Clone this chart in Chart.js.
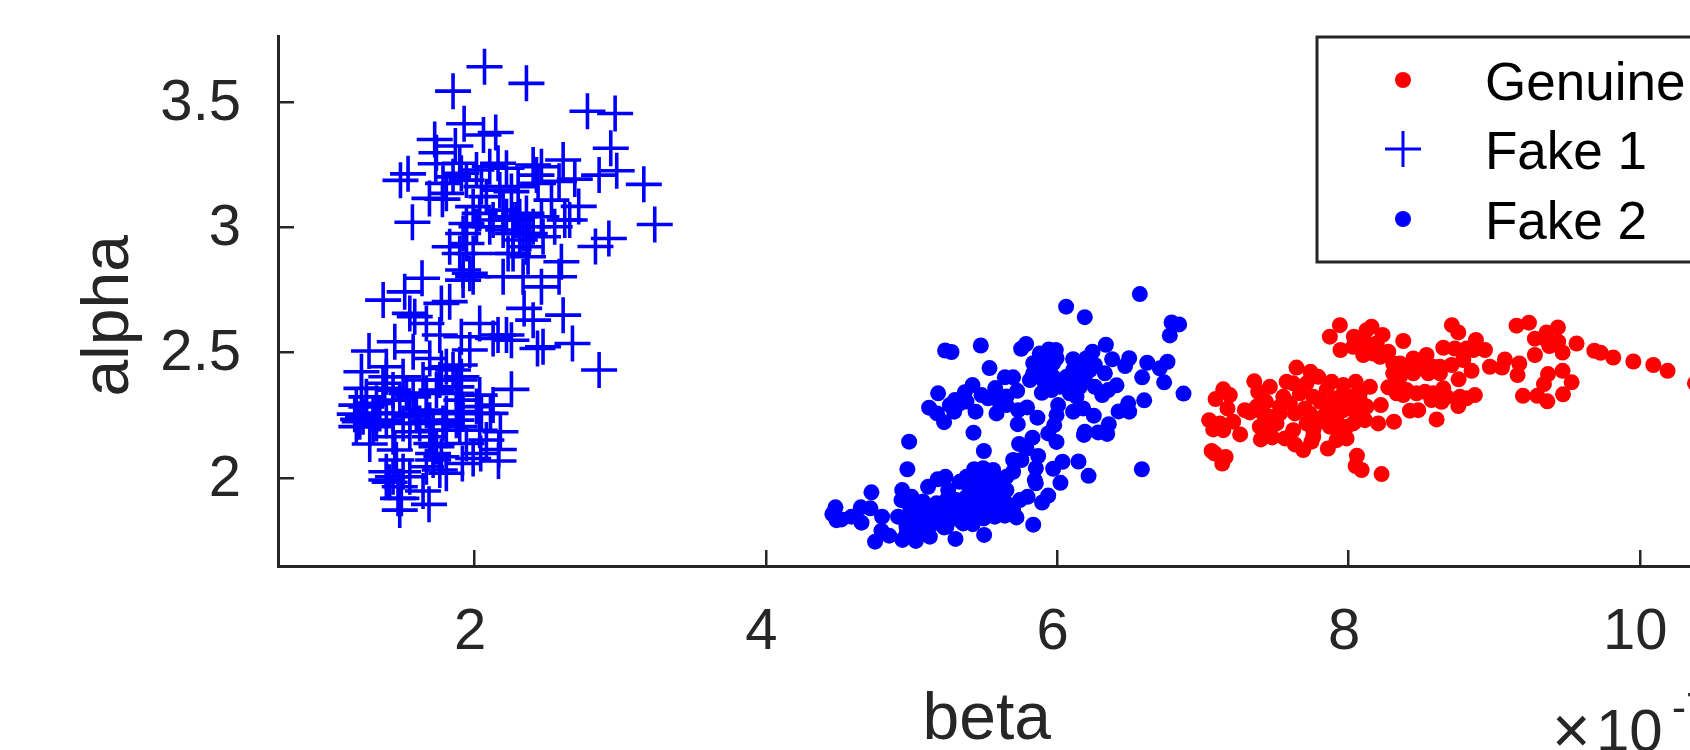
<!DOCTYPE html>
<html>
<head>
<meta charset="utf-8">
<title>alpha vs beta</title>
<script src="https://cdn.jsdelivr.net/npm/chart.js@4/dist/chart.umd.min.js"></script>
<style>
  html, body { margin: 0; padding: 0; background: #fff; overflow: hidden; }
  canvas { display: block; }
</style>
</head>
<body>
<canvas id="chart" width="1690" height="750"></canvas>
<script>
const seriesNames = ['Genuine', 'Fake 1', 'Fake 2'];
const xTicks = [2, 4, 6, 8, 10];
const yTicks = [2, 2.5, 3, 3.5];

const genuineBeta = [
  10.379, 10.191, 10.093, 9.956, 9.818, 9.731, 9.688, 9.566, 9.239, 9.154, 9.438, 9.36, 9.28, 9.44, 9.379,
  9.47, 9.28, 9.47, 9.37, 9.532, 9.342, 9.473, 9.296, 9.198, 9.365, 8.71, 8.754, 8.875, 8.811, 8.937,
  8.651, 8.73, 8.971, 9.074, 9.173, 9.054, 9.161, 8.845, 8.756, 8.708, 8.868, 8.811, 8.754, 8.639, 8.765,
  8.651, 8.605, 8.57, 8.525, 8.479, 8.422, 8.376, 8.536, 8.582, 8.445, 8.353, 8.273, 8.307, 8.445, 8.548,
  8.234, 8.158, 8.124, 8.037, 7.941, 7.872, 7.945, 8.101, 8.17, 8.124, 8.273, 8.376, 8.222, 8.312, 8.204,
  8.113, 8.147, 8.049, 7.964, 7.884, 7.808, 8.021, 7.964, 8.055, 7.872, 7.781, 7.712, 7.872, 7.987, 7.941,
  7.858, 7.746, 7.689, 7.632, 7.563, 7.476, 7.398, 7.506, 7.437, 7.414, 7.323, 7.632, 7.701, 7.552, 7.575,
  7.643, 7.739, 7.792, 7.712, 7.666, 7.46, 7.353, 7.38, 7.433, 7.288, 7.169, 7.185, 7.14, 7.087, 7.043,
  7.208, 7.14, 7.071, 7.256, 7.06, 7.082, 7.156, 7.133, 8.058, 8.049, 8.09, 8.227, 7.987, 8.078, 8.124,
  7.918, 7.758, 7.529, 7.437, 8.33, 8.399, 8.49, 8.399, 8.353,
  7.369, 7.46, 7.391, 7.529, 7.598, 7.758, 7.849, 7.941, 8.01, 8.078, 7.895, 7.826, 7.735, 7.918, 8.033,
  7.918, 7.758, 7.62, 7.46, 7.62, 8.33, 8.467, 8.582, 8.674, 8.422, 8.513, 8.628, 8.628, 8.307, 8.101,
  8.193, 8.055, 8.032, 8.216, 8.857, 8.788, 9.406, 9.36, 7.117
];
const genuineAlpha = [
  2.378, 2.428, 2.451, 2.465, 2.481, 2.5, 2.508, 2.537, 2.62, 2.608, 2.601, 2.581, 2.556, 2.544, 2.527,
  2.501, 2.491, 2.428, 2.415, 2.382, 2.375, 2.334, 2.328, 2.328, 2.306, 2.61, 2.581, 2.551, 2.517, 2.511,
  2.52, 2.517, 2.444, 2.473, 2.457, 2.441, 2.411, 2.428, 2.394, 2.451, 2.331, 2.318, 2.287, 2.304, 2.324,
  2.358, 2.234, 2.311, 2.344, 2.271, 2.269, 2.547, 2.491, 2.444, 2.477, 2.457, 2.504, 2.418, 2.418, 2.418,
  2.571, 2.604, 2.59, 2.564, 2.61, 2.564, 2.511, 2.491, 2.497, 2.537, 2.362, 2.331, 2.291, 2.225, 2.218,
  2.231, 2.364, 2.384, 2.371, 2.384, 2.304, 2.324, 2.271, 2.258, 2.258, 2.218, 2.218, 2.205, 2.158, 2.178,
  2.118, 2.145, 2.112, 2.134, 2.158, 2.162, 2.154, 2.218, 2.205, 2.258, 2.262, 2.258, 2.278, 2.324, 2.384,
  2.441, 2.424, 2.404, 2.378, 2.338, 2.364, 2.386, 2.344, 2.304, 2.271, 2.278, 2.331, 2.354, 2.315, 2.231,
  2.225, 2.191, 2.194, 2.174, 2.108, 2.098, 2.084, 2.058, 2.089, 2.048, 2.032, 2.016, 2.205, 2.311, 2.285,
  2.218, 2.191, 2.258, 2.231, 2.378, 2.351, 2.444, 2.444, 2.404,
  2.285, 2.245, 2.205, 2.285, 2.298, 2.324, 2.351, 2.324, 2.285, 2.338, 2.298, 2.245, 2.258, 2.245, 2.218,
  2.151, 2.165, 2.191, 2.191, 2.378, 2.338, 2.338, 2.338, 2.324, 2.444, 2.444, 2.444, 2.418, 2.457, 2.564,
  2.537, 2.537, 2.524, 2.484, 2.511, 2.471, 2.537, 2.55, 2.218
];

const fake1Beta = [
  2.067, 1.851, 2.355, 2.774, 2.964, 1.927, 2.06, 2.144, 2.934, 1.725, 1.867, 1.737, 1.732, 1.542, 1.49,
  2.607, 2.975, 2.854, 3.161, 2.687, 2.579, 3.236, 2.921, 2.829, 2.714, 1.572, 1.689, 1.778, 1.897, 2.012,
  2.103, 2.16, 2.218, 2.401, 2.458, 2.424, 1.908, 1.851, 1.943, 1.782, 1.805, 2.046, 2.08, 2.172, 2.252,
  2.298, 2.435, 2.527, 2.652, 2.618, 2.458, 2.355, 2.286, 2.218, 2.126, 2.034, 1.989, 1.943, 1.92, 2.012,
  2.103, 2.195, 2.263, 2.332, 2.401, 2.469, 2.549, 1.828, 1.943, 1.897, 1.989, 2.229, 2.355, 2.366, 2.263,
  2.595, 2.579, 1.92, 1.989, 2.195, 2.332, 1.371, 1.519, 1.638, 2.458, 2.339, 2.401, 2.607, 2.671, 2.854,
  2.469, 2.431, 2.218, 2.16, 2.126, 2.252, 2.034, 1.771, 1.828, 1.554, 1.588, 1.668, 1.76, 1.908, 1.966,
  1.577, 1.451, 1.274, 1.222, 2.252, 2.034, 2.126, 1.691, 1.771, 1.897, 1.908, 1.393, 1.382, 1.222, 1.256,
  1.508, 1.531, 1.645, 1.737, 1.874, 1.187, 1.325, 1.176, 1.199, 1.21, 1.302, 1.439, 1.554, 1.668, 1.805,
  1.92, 2.046, 2.108, 2.176, 2.08, 2.165, 2.163, 2.041, 1.279, 1.451, 1.702, 1.943, 1.989, 1.805, 1.915,
  1.393, 1.508, 1.416, 1.554, 1.645, 1.473, 1.496, 1.686, 1.393, 1.714, 1.76, 1.714, 1.554, 1.439, 1.325,
  1.897, 1.805, 1.622, 2.034, 1.874,
  1.393, 1.37, 1.439, 1.485, 1.577, 1.668, 1.76, 1.851, 1.897, 1.805, 1.874, 1.256, 1.348, 1.233, 1.187,
  1.302, 1.393, 1.508, 1.599, 1.691, 1.782, 1.691, 1.737, 1.714, 1.771, 1.668, 1.462, 1.439, 1.485, 1.485,
  1.897, 1.908, 2.012, 2.263, 2.309, 2.378, 2.309, 2.195, 1.966, 1.92
];
const fake1Alpha = [
  3.641, 3.544, 3.575, 3.464, 3.455, 3.414, 3.369, 3.379, 3.316, 3.351, 3.325, 3.298, 3.254, 3.214, 3.188,
  3.269, 3.226, 3.209, 3.172, 3.193, 3.184, 3.012, 2.956, 2.924, 3.084, 3.021, 3.116, 3.113, 3.256, 3.229,
  3.242, 3.256, 3.236, 3.249, 3.242, 3.209, 3.216, 3.202, 3.189, 3.176, 3.136, 3.163, 3.123, 3.149, 3.143,
  3.163, 3.176, 3.109, 3.03, 3.03, 3.043, 3.056, 3.03, 3.043, 3.03, 3.056, 3.083, 3.016, 2.976, 3.003,
  3.003, 2.99, 2.976, 2.976, 3.003, 2.963, 3.003, 2.923, 2.936, 2.896, 2.896, 2.896, 2.923, 2.883, 2.896,
  2.863, 2.803, 2.83, 2.803, 2.803, 2.803, 2.71, 2.743, 2.797, 2.763, 2.677, 2.63, 2.65, 2.537, 2.431,
  2.524, 2.517, 2.571, 2.571, 2.557, 2.55, 2.617, 2.697, 2.704, 2.657, 2.644, 2.617, 2.571, 2.564, 2.511,
  2.504, 2.544, 2.507, 2.424, 2.354, 2.331, 2.291, 2.477, 2.437, 2.451, 2.404, 2.404, 2.358, 2.358, 2.324,
  2.404, 2.338, 2.391, 2.351, 2.338, 2.291, 2.298, 2.255, 2.234, 2.225, 2.258, 2.258, 2.245, 2.271, 2.258,
  2.265, 2.258, 2.258, 2.185, 2.152, 2.114, 2.068, 2.098, 2.136, 2.112, 2.138, 2.138, 2.078, 2.019, 2.058,
  2.025, 2.025, 1.983, 2.005, 1.948, 1.919, 1.919, 1.895, 1.992, 2.072, 2.032, 2.191, 2.185, 2.165, 2.218,
  2.205, 2.191, 2.218, 2.191, 2.231,
  2.444, 2.378, 2.351, 2.311, 2.324, 2.338, 2.391, 2.431, 2.391, 2.444, 2.364, 2.284, 2.258, 2.245, 2.205,
  2.205, 2.231, 2.218, 2.258, 2.231, 2.218, 2.165, 2.125, 2.098, 2.085, 2.045, 2.072, 2.005, 1.965, 1.872,
  2.258, 2.311, 2.285, 3.03, 3.043, 2.976, 2.95, 3.069, 2.817, 2.79
];

const fake2Beta = [
  6.567, 6.061, 6.189, 6.785, 6.837, 6.773, 5.23, 5.274, 5.475, 5.535, 5.752, 5.786, 5.88, 5.942, 5.99,
  5.995, 5.835, 5.903, 5.858, 5.926, 6.109, 6.242, 6.334, 6.2, 6.377, 6.494, 6.466, 6.327, 6.618, 6.757,
  6.704, 6.583, 6.734, 6.867, 6.597, 6.487, 6.494, 6.421, 6.407, 6.35, 6.309, 6.258, 6.19, 6.132, 6.064,
  6.132, 6.018, 5.96, 5.894, 5.812, 5.725, 5.697, 5.64, 5.574, 5.418, 5.365, 5.182, 5.297, 5.262, 5.12,
  5.175, 5.223, 5.292, 5.377, 5.439, 5.48, 5.525, 5.606, 5.651, 5.583, 5.732, 5.793, 5.729, 5.864, 6.006,
  5.995, 5.979, 5.938, 5.995, 5.83, 5.738, 5.789, 6.109, 6.178, 6.251, 6.19, 6.183, 6.281, 6.343, 6.354,
  5.425, 4.983, 5.496, 4.971, 6.581, 5.869, 6.036, 5.972, 6.146, 6.215, 6.022, 5.853, 5.846, 5.853, 5.697,
  5.754, 5.697, 5.651, 5.56, 5.491, 5.429, 5.491, 5.606, 5.422, 5.331, 5.232, 5.178, 5.113, 5.251, 4.935,
  4.724, 4.93, 5.0, 5.938, 5.896, 5.796, 5.743, 5.651, 5.56, 5.491, 5.377, 5.308, 5.216, 5.079, 5.148,
  5.262, 5.4, 5.514, 5.606, 5.72, 5.64, 5.571, 5.496, 5.42, 5.835, 5.498, 5.301, 5.223, 5.125, 5.029,
  4.937, 4.846, 4.793, 4.749, 4.907, 5.01, 5.102, 5.331, 5.033, 4.965, 4.797, 4.656, 4.717, 4.651, 4.587,
  4.477, 4.456, 4.484, 4.518,
  4.988, 5.056, 5.125, 5.194, 5.262, 5.148, 5.239, 5.308, 5.354, 5.4, 5.445, 5.514, 5.583, 5.651, 5.697,
  5.445, 5.514, 5.583, 5.468, 5.4, 5.331, 5.239, 5.171, 5.102, 4.965, 5.033, 4.942, 5.377, 5.56, 5.606,
  5.858, 5.972, 6.041, 6.109, 6.178, 6.224, 6.155, 6.086, 5.972, 5.903, 5.835, 6.258, 5.606, 5.331, 5.651
];
const fake2Alpha = [
  2.734, 2.684, 2.642, 2.621, 2.613, 2.569, 2.509, 2.503, 2.529, 2.439, 2.516, 2.535, 2.497, 2.513, 2.511,
  2.478, 2.458, 2.471, 2.418, 2.431, 2.474, 2.504, 2.532, 2.478, 2.474, 2.478, 2.447, 2.418, 2.46, 2.464,
  2.438, 2.402, 2.382, 2.337, 2.31, 2.298, 2.265, 2.266, 2.37, 2.351, 2.331, 2.364, 2.404, 2.378, 2.404,
  2.325, 2.364, 2.351, 2.34, 2.391, 2.348, 2.402, 2.402, 2.359, 2.371, 2.342, 2.338, 2.311, 2.291, 2.281,
  2.258, 2.223, 2.265, 2.305, 2.265, 2.331, 2.318, 2.325, 2.291, 2.258, 2.271, 2.282, 2.215, 2.241, 2.291,
  2.251, 2.211, 2.178, 2.144, 2.161, 2.136, 2.118, 2.265, 2.278, 2.249, 2.185, 2.172, 2.182, 2.176, 2.215,
  2.181, 2.145, 2.108, 2.035, 2.035, 2.088, 2.065, 2.037, 2.066, 2.009, 1.981, 2.039, 1.992, 1.979, 2.072,
  2.072, 2.025, 2.005, 2.032, 2.039, 2.035, 1.992, 1.979, 1.979, 1.985, 2.005, 1.995, 1.965, 1.952, 1.952,
  1.943, 1.912, 1.925, 1.93, 1.902, 1.925, 1.912, 1.952, 1.939, 1.939, 1.925, 1.912, 1.899, 1.906, 1.872,
  1.872, 1.886, 1.899, 1.886, 1.843, 1.85, 1.846, 1.839, 1.816, 1.814, 1.773, 1.757, 1.803, 1.766, 1.749,
  1.753, 1.77, 1.79, 1.746, 1.846, 1.832, 1.832, 1.832, 1.792, 1.806, 1.846, 1.822, 1.879, 1.883, 1.846,
  1.883, 1.856, 1.832, 1.835,
  1.886, 1.859, 1.872, 1.846, 1.839, 1.819, 1.806, 1.859, 1.819, 1.846, 1.872, 1.859, 1.872, 1.899, 1.872,
  1.925, 1.965, 1.979, 2.005, 1.952, 1.899, 1.912, 1.899, 1.806, 1.779, 1.872, 1.839, 2.005, 2.005, 1.925,
  2.458, 2.404, 2.378, 2.431, 2.444, 2.431, 2.364, 2.338, 2.458, 2.391, 2.418, 2.451, 2.298, 2.298, 2.325
];

const inkColor = '#262626';
const fontFamily = '"Liberation Sans", Helvetica, Arial, sans-serif';

function toPoints(xs, ys) {
  return xs.map((x, i) => ({ x: x, y: ys[i] }));
}

// sem margem extra dos rótulos: a área do gráfico vai até a borda direita
function fixScaleBox(scale, size) {
  if (scale.isHorizontal()) scale.height = size;
  else scale.width = size;
  scale.paddingLeft = scale.paddingRight = scale.paddingTop = scale.paddingBottom = 0;
}

// legenda e multiplicador do eixo x desenhados por cima do gráfico
const legendBox = {
  id: 'legendBox',
  afterDatasetsDraw(chart) {
    const ctx = chart.ctx;
    ctx.save();
    ctx.fillStyle = '#ffffff';
    ctx.strokeStyle = inkColor;
    ctx.lineWidth = 3;
    ctx.fillRect(1317, 37, 420, 225);
    ctx.strokeRect(1317, 37, 420, 225);

    const rows = [80, 149, 219];
    chart.data.datasets.forEach((ds, i) => {
      const cross = ds.pointStyle === 'cross';
      ctx.fillStyle = ds.backgroundColor;
      ctx.strokeStyle = ds.borderColor;
      Chart.helpers.drawPoint(ctx, {
        pointStyle: ds.pointStyle,
        radius: cross ? 18 : 8,
        rotation: 0,
        borderWidth: cross ? 2.5 : 0
      }, 1403, rows[i]);
      ctx.fillStyle = '#000000';
      ctx.font = '53px ' + fontFamily;
      ctx.textAlign = 'left';
      ctx.textBaseline = 'middle';
      ctx.fillText(ds.label, 1485, rows[i] + 5);
    });

    ctx.fillStyle = inkColor;
    ctx.textBaseline = 'alphabetic';
    ctx.font = '66px ' + fontFamily;
    ctx.fillText('\u00d7', 1552, 753);
    ctx.font = '60px ' + fontFamily;
    ctx.fillText('10', 1596, 751);
    ctx.font = '42px ' + fontFamily;
    ctx.fillText('-7', 1672, 722);
    ctx.restore();
  }
};

new Chart(document.getElementById('chart'), {
  type: 'scatter',
  data: {
    datasets: [
      {
        label: seriesNames[0],
        data: toPoints(genuineBeta, genuineAlpha),
        pointStyle: 'circle',
        pointRadius: 8,
        pointBorderWidth: 0,
        backgroundColor: '#ff0000',
        borderColor: '#ff0000'
      },
      {
        label: seriesNames[1],
        data: toPoints(fake1Beta, fake1Alpha),
        pointStyle: 'cross',
        pointRadius: 18,
        pointBorderWidth: 3.6,
        backgroundColor: '#0000ff',
        borderColor: '#0000ff'
      },
      {
        label: seriesNames[2],
        data: toPoints(fake2Beta, fake2Alpha),
        pointStyle: 'circle',
        pointRadius: 8,
        pointBorderWidth: 0,
        backgroundColor: '#0000ff',
        borderColor: '#0000ff'
      }
    ]
  },
  options: {
    responsive: false,
    animation: false,
    layout: { autoPadding: false, padding: { top: 36, right: 0, bottom: 0, left: 0 } },
    plugins: {
      legend: { display: false },
      tooltip: { enabled: false }
    },
    scales: {
      x: {
        type: 'linear',
        min: 0.649,
        max: 10.345,
        afterFit: (scale) => fixScaleBox(scale, 184),
        afterBuildTicks: (scale) => { scale.ticks = xTicks.map(v => ({ value: v })); },
        border: { display: true, color: inkColor, width: 3 },
        grid: { drawOnChartArea: false, drawTicks: true, tickLength: -16, color: inkColor, lineWidth: 2.5 },
        ticks: {
          color: inkColor,
          font: { family: fontFamily, size: 58 },
          padding: 48,
          labelOffset: -4.5,
          maxRotation: 0,
          autoSkip: false,
          callback: (v) => String(v)
        },
        title: {
          display: true,
          text: '\u200abeta',
          color: inkColor,
          font: { family: fontFamily, size: 66, lineHeight: 0.9 },
          padding: { top: 0, bottom: 0 }
        }
      },
      y: {
        type: 'linear',
        min: 1.649,
        max: 3.764,
        afterFit: (scale) => fixScaleBox(scale, 278),
        afterBuildTicks: (scale) => { scale.ticks = yTicks.map(v => ({ value: v })); },
        border: { display: true, color: inkColor, width: 3 },
        grid: { drawOnChartArea: false, drawTicks: true, tickLength: -16, color: inkColor, lineWidth: 2.5 },
        ticks: {
          color: inkColor,
          font: { family: fontFamily, size: 58 },
          padding: 53,
          labelOffset: 1.5,
          autoSkip: false,
          callback: (v) => String(v)
        },
        title: {
          display: true,
          text: 'alpha\u2005\u2009',
          color: inkColor,
          font: { family: fontFamily, size: 66, lineHeight: 1 },
          padding: { top: 77, bottom: 0 }
        }
      }
    }
  },
  plugins: [legendBox]
});
</script>
</body>
</html>
